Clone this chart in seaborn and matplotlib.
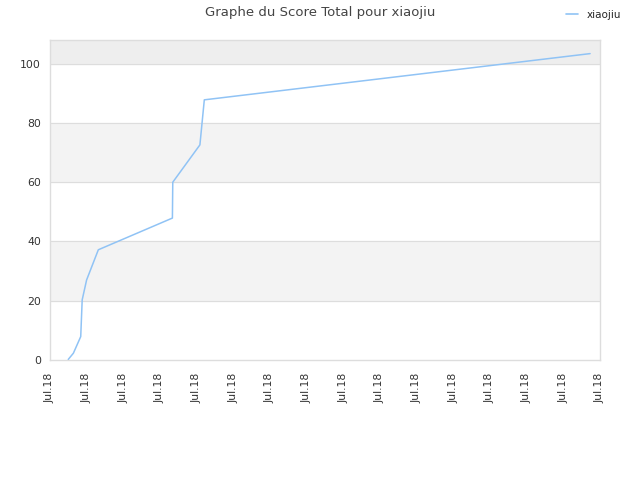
import pandas as pd
import matplotlib
matplotlib.use("Agg")
import matplotlib.pyplot as plt
import seaborn as sns

# Score values (x in tick units)
x_pos = [0.50, 0.64, 0.84, 0.88, 1.00, 1.32, 3.34, 3.35, 4.09, 4.21, 14.73]
scores = [0.2, 2.3, 7.9, 20.3, 27.0, 37.2, 47.9, 60.0, 72.6, 87.8, 103.4]
tick_labels = ["Jul.18"] * 16
player = "xiaojiu"

df = pd.DataFrame({"t": x_pos, "score": scores, "player": player})

sns.set_style("white")
plt.rcParams["font.family"] = ["DejaVu Sans"]

fig = plt.figure(figsize=(6.4, 4.8), dpi=100)
ax = fig.add_axes([0.078, 0.25, 0.8595, 0.6667])

#  Alternating bands behind the line
ax.axhspan(20, 40, color="#f3f3f3", zorder=0)
ax.axhspan(60, 80, color="#f3f3f3", zorder=0)
ax.axhspan(100, 110, color="#eeeeee", zorder=0)
for yv in [20, 40, 60, 80, 100]:
    ax.axhline(yv, color="#dddddd", lw=0.8, zorder=1)

sns.lineplot(data=df, x="t", y="score", hue="player", palette=["#90c3f5"],
             lw=1.1, ax=ax, legend=False, zorder=3)

ax.set_xlim(0, 15)
ax.set_ylim(0, 108)
ax.set_xticks(range(16))
ax.set_xticklabels(tick_labels, rotation=90, fontsize=7.8, color="#333333")
ax.set_yticks([0, 20, 40, 60, 80, 100])
ax.tick_params(axis="y", labelsize=7.8, colors="#333333", length=3)
ax.tick_params(axis="x", length=3, colors="#333333", pad=6)
ax.set_xlabel("")
ax.set_ylabel("")
for s in ax.spines.values():
    s.set_color("#dddddd")
    s.set_linewidth(1)

fig.suptitle("Graphe du Score Total pour xiaojiu", x=0.5, y=0.988,
             fontsize=9.5, color="#444444")

handle = plt.Line2D([], [], color="#90c3f5", lw=1.2)
fig.legend([handle], [player], loc="upper right", bbox_to_anchor=(0.985, 0.999),
           frameon=False, fontsize=7.5, handlelength=1.2)

fig.savefig("out.png", dpi=100)
